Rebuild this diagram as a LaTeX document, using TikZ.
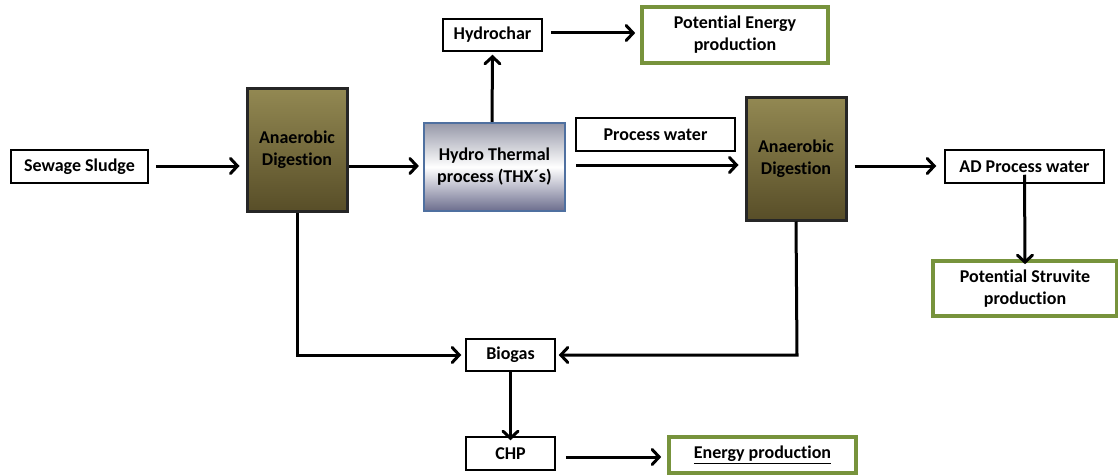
\documentclass[tikz,border=0pt]{standalone}
\usepackage{fontspec}
\setmainfont{Carlito}[Ligatures={NoCommon}]
\usetikzlibrary{arrows.meta}
\definecolor{adtop}{RGB}{146,136,82}
\definecolor{adbot}{RGB}{88,78,40}
\definecolor{thxedge}{RGB}{79,112,160}
\definecolor{thxgrey}{RGB}{150,152,168}
\definecolor{greenedge}{RGB}{119,147,60}
\tikzset{
  txt/.style={font=\fontsize{18}{22}\selectfont\bfseries, align=center, inner sep=0pt},
  plainbox/.style={txt, draw=black, line width=1.5pt, fill=white},
  adbox/.style={txt, draw=black!85, line width=3pt, top color=adtop, bottom color=adbot},
  thxbox/.style={txt, draw=thxedge, line width=2.2pt, top color=thxgrey, bottom color=thxgrey!90!blue!80!black, middle color=white},
  greenbox/.style={txt, draw=greenedge, line width=3.6pt, fill=white},
  flow/.style={line width=3pt, -{Straight Barb[length=7pt,width=15pt,line cap=round]}},
}
\begin{document}
\begin{tikzpicture}[x=1pt,y=-1pt]
\useasboundingbox (0,0) rectangle (1118,476);
% nodes (sizes from reference)
\node[plainbox, minimum width=137pt, minimum height=33pt] (ss) at (79.5,166.5) {Sewage Sludge};
\node[adbox, minimum width=100pt, minimum height=122pt] (ad1) at (297,150) {Anaerobic\\Digestion};
\node[thxbox, minimum width=141pt, minimum height=88pt] (thx) at (494.5,167) {Hydro Thermal\\process (THX´s)};
\node[plainbox, minimum width=99pt, minimum height=32pt] (hc) at (492.5,35) {Hydrochar};
\node[greenbox, minimum width=186pt, minimum height=56pt] (pe) at (735,35) {Potential Energy\\production};
\node[plainbox, minimum width=159pt, minimum height=33pt] (pw) at (655.5,134.5) {Process water};
\node[adbox, minimum width=100pt, minimum height=122pt] (ad2) at (796,159) {Anaerobic\\Digestion};
\node[plainbox, minimum width=159pt, minimum height=33pt] (adpw) at (1024.5,166.5) {AD Process water};
\node[greenbox, minimum width=184pt, minimum height=55pt] (st) at (1025,288.5) {Potential Struvite\\production};
\node[plainbox, minimum width=89pt, minimum height=32pt] (bg) at (510.5,355) {Biogas};
\node[plainbox, minimum width=89pt, minimum height=33pt] (chp) at (510.5,453.5) {CHP};
\node[greenbox, minimum width=187pt, minimum height=36pt] (ep) at (762.5,455) {\underline{Energy production}};
% helper coordinates
\coordinate (c1) at (297,355);
\coordinate (c2) at (797,355);
% connectors
\draw[flow] (ss.east |- 0,166) ++(7pt,0) -- ([xshift=-6pt]ad1.west |- 0,166);
\draw[flow] (ad1.east |- 0,166) -- ([xshift=-4pt]thx.west |- 0,166);
\draw[flow] (thx.north -| 492,0) -- ([yshift=-3pt]hc.south);
\draw[flow] ([xshift=8pt]hc.east |- 0,33) -- ([xshift=-5pt]pe.west |- 0,33);
\draw[flow] ([xshift=10pt]thx.east |- 0,165) -- ([xshift=-6pt]ad2.west |- 0,165);
\draw[flow] ([xshift=7pt]ad2.east |- 0,166) -- ([xshift=-8pt]adpw.west |- 0,166);
\draw[flow] ([yshift=9pt]adpw.south) -- ([yshift=-5pt]st.north);
\draw[flow] (ad1.south) -- (c1) -- ([xshift=-4pt]bg.west);
\draw[flow] (ad2.south) -- (c2) -- ([xshift=3pt]bg.east);
\draw[flow] (bg.south) -- ([yshift=-4pt]chp.north);
\draw[flow] ([xshift=10pt]chp.east |- 0,457) -- ([xshift=-6pt]ep.west |- 0,457);
\end{tikzpicture}
\end{document}
